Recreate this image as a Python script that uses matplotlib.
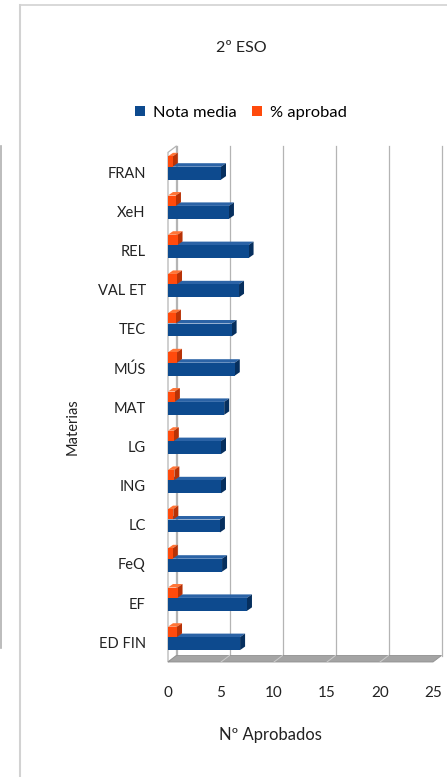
import matplotlib
matplotlib.use("Agg")
import matplotlib.pyplot as plt
from matplotlib.patches import Patch, Polygon
from matplotlib.lines import Line2D

plt.rcParams["font.family"] = ["Lato", "DejaVu Sans"]

# datos
materias = ["FRAN", "XeH", "REL", "VAL ET", "TEC", "MÚS", "MAT",
            "LG", "ING", "LC", "FeQ", "EF", "ED FIN"]
nota_media = [5.0, 5.75, 7.6, 6.7, 6.0, 6.3, 5.3, 5.0, 5.0, 4.9, 5.1, 7.45, 6.8]
pct_aprobad = [0.45, 0.75, 0.9, 0.85, 0.75, 0.85, 0.65, 0.55, 0.6, 0.5, 0.45, 0.9, 0.85]
x_ticks = [0, 5, 10, 15, 20, 25]

W, H = 447, 777
fig = plt.figure(figsize=(W / 100, H / 100), dpi=100)

# plano frontal del gráfico 3D (pixeles)
left_px, right_px = 168, 433
top_px, bot_px = 152.4, 662
ax = fig.add_axes([left_px / W, 1 - bot_px / H,
                   (right_px - left_px) / W, (bot_px - top_px) / H])
ax.set_xlim(0, 25)
ax.set_ylim(12.5, -0.5)
for s in ax.spines.values():
    s.set_visible(False)

px_x = (right_px - left_px) / 25.0   # px por unidad x
px_y = (bot_px - top_px) / 13.0      # px por categoría

# profundidad de la pared del fondo y de las barras, en unidades de datos
wall_dx, wall_dy = 8.5 / px_x, -6.5 / px_y
bar_dx, bar_dy = 5 / px_x, -3.5 / px_y

grid_c = "#b4b4b4"
y_lo, y_hi = -0.5, 12.5

# pared izquierda
ax.add_patch(Polygon([(0, y_lo), (wall_dx, y_lo + wall_dy),
                      (wall_dx, y_hi + wall_dy), (0, y_hi)],
                     closed=True, facecolor="white", edgecolor=grid_c,
                     lw=0.9, clip_on=False, zorder=1))

# rejilla del fondo
for t in x_ticks:
    ax.plot([t + wall_dx, t + wall_dx], [y_lo + wall_dy, y_hi + wall_dy],
            color=grid_c, lw=0.9, clip_on=False, zorder=1)

# suelo
ax.add_patch(Polygon([(0, y_hi), (25, y_hi), (25 + wall_dx, y_hi + wall_dy),
                      (wall_dx, y_hi + wall_dy)],
                     closed=True, facecolor="#a4a4a4", edgecolor="#909090",
                     lw=0.6, clip_on=False, zorder=1))
for t in x_ticks[1:-1]:
    ax.plot([t, t + wall_dx], [y_hi, y_hi + wall_dy], color="#cccccc",
            lw=0.7, clip_on=False, zorder=1)


def bar3d(vals, offset, height, front, top, side):
    ys = [i + offset for i in range(len(vals))]
    ax.barh(ys, vals, height=height, color=front, edgecolor="none",
            zorder=3, clip_on=False)
    for y, v in zip(ys, vals):
        y0 = y - height / 2
        y1 = y + height / 2
        ax.add_patch(Polygon([(0, y0), (v, y0), (v + bar_dx, y0 + bar_dy),
                              (bar_dx, y0 + bar_dy)], closed=True,
                             facecolor=top, edgecolor="none", zorder=2,
                             clip_on=False))
        ax.add_patch(Polygon([(v, y0), (v + bar_dx, y0 + bar_dy),
                              (v + bar_dx, y1 + bar_dy), (v, y1)], closed=True,
                             facecolor=side, edgecolor="none", zorder=2,
                             clip_on=False))


bar3d(nota_media, 0.03, 0.33, "#0d4a8e", "#2b63a6", "#062f5e")
bar3d(pct_aprobad, -0.27, 0.26, "#ff4a0c", "#ff7436", "#b83206")

ax.set_xticks(x_ticks)
ax.set_xticklabels([str(t) for t in x_ticks])
ax.set_yticks(range(len(materias)))
ax.set_yticklabels(materias)
ax.tick_params(axis="both", length=0, labelsize=10.5, colors="#222222")
ax.tick_params(axis="x", labelsize=11, pad=17)
ax.tick_params(axis="y", pad=16)

fig.text(241 / W, 1 - 48 / H, "2º ESO", ha="center", va="center",
         fontsize=11.5, color="#222222")
fig.text(270 / W, 1 - 735 / H, "Nº Aprobados", ha="center", va="center",
         fontsize=12, color="#222222")
fig.text(73 / W, 1 - 427 / H, "Materias", ha="center", va="center",
         rotation=90, fontsize=10.5, color="#222222")

handles = [Patch(facecolor="#0d4a8e", label="Nota media"),
           Patch(facecolor="#ff4a0c", label="% aprobad")]
fig.legend(handles=handles, loc="center", bbox_to_anchor=(241 / W, 1 - 113 / H),
           ncol=2, frameon=False, fontsize=11.8, handlelength=0.6,
           handleheight=0.6, handletextpad=0.5, columnspacing=0.9)

# bordes del área del gráfico
fig.add_artist(Line2D([19.5 / W, 19.5 / W], [0, 1 - 5 / H], color="#d2d2d2", lw=1.5))
fig.add_artist(Line2D([19.5 / W, 1], [1 - 5 / H, 1 - 5 / H], color="#d2d2d2", lw=1.2))
fig.add_artist(Line2D([1 / W, 1 / W], [1 - 146 / H, 1 - 648 / H], color="#b0b0b0", lw=1.2))

fig.savefig("out.png", dpi=100)
